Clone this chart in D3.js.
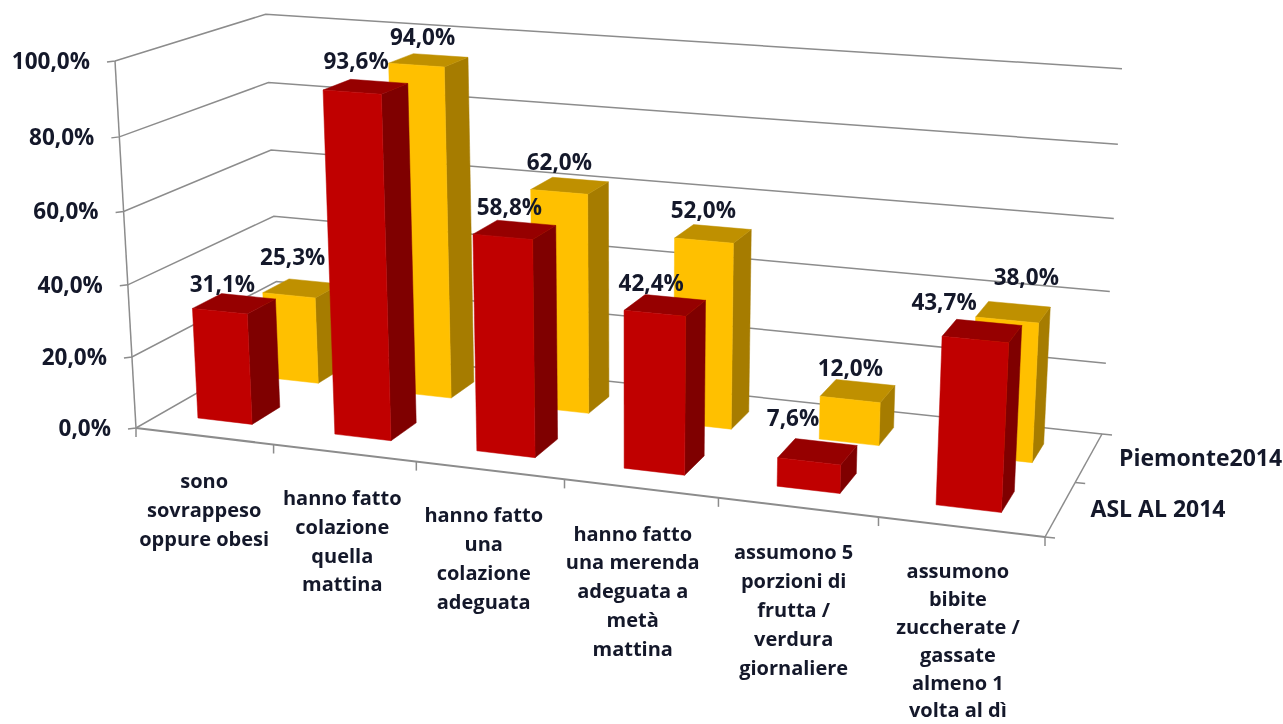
<!DOCTYPE html>
<html><head><meta charset="utf-8">
<script src="https://cdnjs.cloudflare.com/ajax/libs/d3/7.8.5/d3.min.js"></script>
<style>html,body{margin:0;background:#fff}svg{display:block;filter:blur(0.4px)}
text{font-family:"Open Sans",sans-serif;font-weight:700;fill:#14182a}</style>
</head><body><svg width="1283" height="724"></svg>
<script>
const categories=[["sono","sovrappeso","oppure obesi"],["hanno fatto","colazione","quella","mattina"],["hanno fatto","una","colazione","adeguata"],["hanno fatto","una merenda","adeguata a","metà","mattina"],["assumono 5","porzioni di","frutta /","verdura","giornaliere"],["assumono","bibite","zuccherate /","gassate","almeno 1","volta al dì"]];
const seriesNames=["ASL AL 2014","Piemonte2014"];
const aslValues=[31.1,93.6,58.8,42.4,7.6,43.7];
const piemonteValues=[25.3,94.0,62.0,52.0,12.0,38.0];
const yTicks=[0,20,40,60,80,100];
// hand placement of the labels relative to their marks
const aslLabelNudge=[[-16,8],[-13,0],[-7,4],[-14,6],[-23,-4],[-35,0]];
const piemonteLabelNudge=[[-12,-4],[-8,1],[-11,2],[-9,3],[-5,6],[17,-7]];
const categoryLabelNudge=[0,-2,-6,-8,-4,-3];

const svg=d3.select("svg");
// single projective camera: fitted to the floor corners plus two top corners of the box
function camera(p,topFrontLeft,topBackRight){
  const [x0,y0]=p[0],[x1,y1]=p[1],[x2,y2]=p[2],[x3,y3]=p[3];
  const dx1=x1-x2,dx2=x3-x2,sx=x0-x1+x2-x3,dy1=y1-y2,dy2=y3-y2,sy=y0-y1+y2-y3;
  const den=dx1*dy2-dx2*dy1,g=(sx*dy2-dx2*sy)/den,h=(dx1*sy-sx*dy1)/den;
  const a=x1-x0+g*x1,b=x3-x0+h*x3,d=y1-y0+g*y1,e=y3-y0+h*y3;
  const [tx,ty]=topFrontLeft,[rx]=topBackRight;
  const s=(a+b-rx*(g+h))/(rx-tx);
  const cx=tx*s-x0,cy=ty*s-y0,i=s-1;
  return (u,v,w)=>{const q=g*u+h*w+i*v+1;return [(a*u+b*w+cx*v+x0)/q,(d*u+e*w+cy*v+y0)/q];};
}
const cam=camera([[136,428],[1045,537],[1102,434],[279,346]],[115,61],[1122,66]);
const xBand=d3.scaleBand().domain(d3.range(categories.length)).range([-0.004,0.996]).paddingInner(0.6).paddingOuter(0.3);
const xCell=d3.scaleLinear().domain([0,categories.length]).range([0,1]);
const zBand=d3.scaleBand().domain(d3.range(seriesNames.length)).range([0.16,0.835]).paddingInner(0.594).paddingOuter(0);
const zCell=d3.scaleLinear().domain([0,seriesNames.length]).range([0,1]);
const vScale=d3.scaleLinear().domain([0,100]).range([0,1]);
const P=(u,v,w)=>cam(u,vScale(v),w);
const line=d3.line();
const grid=svg.append("g").attr("fill","none").attr("stroke","#8c8c8c").attr("stroke-width",1.5);
function seg(pts,sw){grid.append("path").attr("d",line(pts)).attr("stroke-width",sw||1.5);}
yTicks.forEach(t=>{
  seg([[P(0,t,0)[0]-8,P(0,t,0)[1]+1],P(0,t,0),P(0,t,1),P(1,t,1)]);
});
seg([P(0,0,0),P(0,100,0)]);
seg([P(0,0,0),P(1,0,0)],2);
seg([P(1,0,0),P(1,0,1)]);
d3.range(categories.length+1).forEach(i=>{const p=P(xCell(i),0,0);seg([p,[p[0],p[1]+9]]);});
d3.range(seriesNames.length+1).forEach(i=>{const p=P(1,0,zCell(i));seg([p,[p[0]+10,p[1]+1]]);});

const colors=[{front:"#c00000",side:"#7f0000",top:"#960000"},{front:"#ffc000",side:"#a67c00",top:"#bf9000"}];
const valuesBySeries=[aslValues,piemonteValues];
const nudges=[aslLabelNudge,piemonteLabelNudge];
const bars=svg.append("g");
[1,0].forEach(s=>{
  const c=colors[s],z0=zBand(s),z1=z0+zBand.bandwidth();
  d3.range(categories.length).reverse().forEach(i=>{
    const x0=xBand(i),x1=x0+xBand.bandwidth(),v=valuesBySeries[s][i];
    const poly=(pts,f)=>bars.append("path").attr("d",line(pts)+"Z").attr("fill",f).attr("stroke",f).attr("stroke-width",.5);
    poly([P(x1,0,z0),P(x1,v,z0),P(x1,v,z1),P(x1,0,z1)],c.side);
    poly([P(x0,v,z0),P(x1,v,z0),P(x1,v,z1),P(x0,v,z1)],c.top);
    poly([P(x0,0,z0),P(x1,0,z0),P(x1,v,z0),P(x0,v,z0)],c.front);
  });
});
const labels=svg.append("g").attr("font-size",22.5);
const fmt=v=>v.toFixed(1).replace(".",",")+"%";
[1,0].forEach(s=>{
  d3.range(categories.length).forEach(i=>{
    const v=valuesBySeries[s][i],p=P(xBand(i)+xBand.bandwidth()/2,v,zBand(s)+zBand.bandwidth()),n=nudges[s][i];
    labels.append("text").attr("x",p[0]-10+n[0]).attr("y",p[1]-12+n[1]).attr("text-anchor","middle").text(fmt(v));
  });
});
yTicks.forEach(t=>{const p=P(0,t,0);
  labels.append("text").attr("x",p[0]-25).attr("y",p[1]+8).attr("text-anchor","end").text(fmt(t));});
const cats=svg.append("g").attr("font-size",20).attr("text-anchor","middle");
categories.forEach((lines,i)=>{
  const p=P(xCell(i+.5),0,0),x=p[0]+categoryLabelNudge[i],long=lines.length>5;
  const t=cats.append("text").attr("x",x).attr("y",p[1]+(long?51:52));
  lines.forEach((l,j)=>t.append("tspan").attr("x",x).attr("dy",j?(long?27.9:28.8):0).text(l));
});
seriesNames.forEach((n,s)=>{
  const p=P(1,0,zCell(s+.5));
  labels.append("text").attr("x",p[0]+30).attr("y",p[1]+8).attr("font-size",23).text(n);
});
</script></body></html>
